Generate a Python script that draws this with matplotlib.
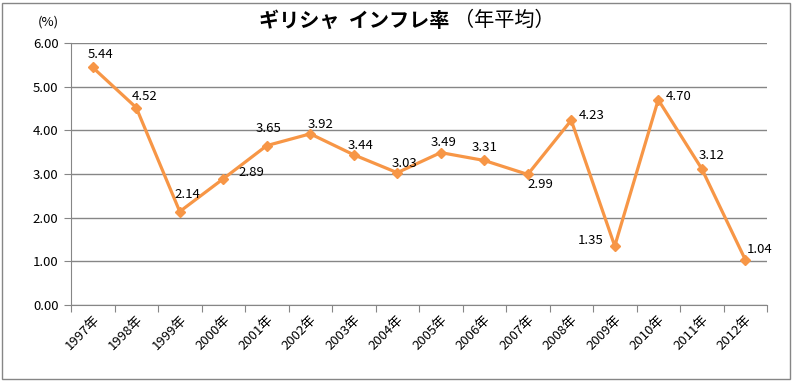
import numpy as np
import matplotlib.pyplot as plt
from matplotlib.patches import Rectangle

plt.rcParams['font.family'] = ['Noto Sans CJK JP', 'DejaVu Sans']

years = ['1997年', '1998年', '1999年', '2000年', '2001年', '2002年', '2003年', '2004年',
         '2005年', '2006年', '2007年', '2008年', '2009年', '2010年', '2011年', '2012年']
inflation = [5.44, 4.52, 2.14, 2.89, 3.65, 3.92, 3.44, 3.03,
             3.49, 3.31, 2.99, 4.23, 1.35, 4.70, 3.12, 1.04]
# label offsets in pixels (dx, dy)
offsets = [(8, 13), (8, 11), (8, 17), (28, 6), (2, 17), (10, 9), (7, 9), (7, 9),
           (3, 10), (0, 13), (13, -10), (20, 5), (-24, 6), (20, 3), (10, 13), (14, 10)]

fig = plt.figure(figsize=(7.94, 3.81), dpi=100)
ax = fig.add_axes([71/794, 1-305/381, 696/794, 262/381])

x = np.arange(len(years))
ax.plot(x, inflation, color='#F79646', lw=2.3, marker='D', ms=5.5, zorder=3)

for xi, v, (dx, dy) in zip(x, inflation, offsets):
    ax.annotate(f'{v:.2f}', (xi, v), xytext=(dx, dy), textcoords='offset pixels',
                ha='center', va='center', fontsize=9.5, color='black', zorder=4)

ax.set_xlim(-0.5, len(years) - 0.5)
ax.set_ylim(0, 6)
ax.set_yticks(np.arange(0, 6.01, 1))
ax.set_yticklabels([f'{t:.2f}' for t in np.arange(0, 6.01, 1)], fontsize=9.5)
ax.yaxis.grid(True, color='#868686', lw=1)
ax.set_axisbelow(True)

ax.set_xticks(np.arange(-0.5, len(years), 1))
ax.set_xticklabels([])
ax.set_xticks(x, minor=True)
ax.set_xticklabels(years, minor=True, rotation=45, ha='right', rotation_mode='anchor',
                   fontsize=9.5)
ax.tick_params(axis='x', which='minor', length=0, pad=6)
ax.tick_params(axis='x', which='major', length=5, color='#868686')
ax.tick_params(axis='y', length=5, color='#868686', pad=4)

for s in ['top', 'right']:
    ax.spines[s].set_visible(False)
for s in ['left', 'bottom']:
    ax.spines[s].set_color('#868686')

fig.text(449/794, 1 - 20/381, 'ギリシャ  インフレ率', ha='right', va='center',
         fontsize=14.5, fontweight='bold')
fig.text(454/794, 1 - 20/381, '（年平均）', ha='left', va='center', fontsize=14.5)
fig.text(48/794, 1 - 22/381, '(%)', ha='center', va='center', fontsize=9.5)

fig.patches.append(Rectangle((2/794, 2/381), 788/794, 376/381, transform=fig.transFigure,
                             fill=False, edgecolor='#868686', lw=1))

fig.savefig('out.png', dpi=100)
